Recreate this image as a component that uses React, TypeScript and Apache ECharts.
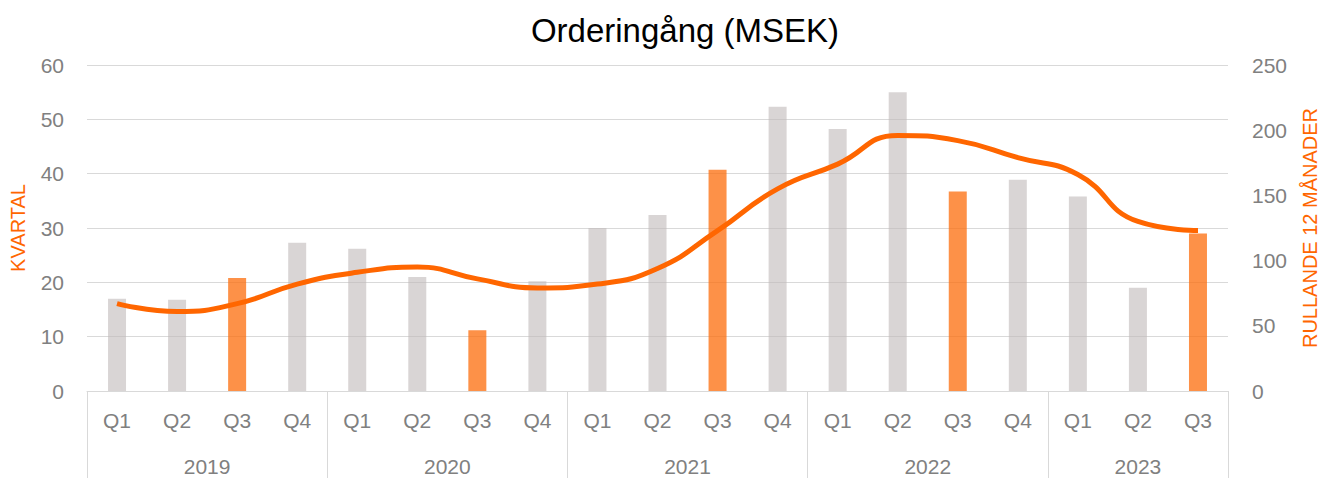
import React, { useEffect, useRef } from "react";
import * as echarts from "echarts";

const quarters = ["Q1", "Q2", "Q3", "Q4", "Q1", "Q2", "Q3", "Q4", "Q1", "Q2", "Q3", "Q4", "Q1", "Q2", "Q3", "Q4", "Q1", "Q2", "Q3"];
const years = ["2019", "2020", "2021", "2022", "2023"];
const quartersPerYear = [4, 4, 4, 4, 3];
const kvartal = [17, 16.8, 20.8, 27.3, 26.2, 21, 11.2, 20.2, 30, 32.4, 40.7, 52.3, 48.2, 55, 36.7, 38.9, 35.8, 19, 29];
const rullande = [67, 61, 67, 82, 91, 95, 86, 79, 82, 94, 123, 155, 174, 196, 192, 179, 166, 130, 123];
const leftTicks = { min: 0, max: 60, interval: 10 };
const rightTicks = { min: 0, max: 250, interval: 50 };

const FONT = "'Liberation Sans', Arial, sans-serif";
const GRAY_TEXT = "#808080";
const GRID = "#d9d9d9";
const ORANGE = "#ff6600";
const ORANGE_BAR = "rgba(252,108,11,0.75)";
const GRAY_BAR = "rgba(191,185,185,0.6)";

export default function App() {
  const ref = useRef<HTMLDivElement>(null);
  useEffect(() => {
    document.body.style.margin = "0";
    if (!ref.current) return;
    const chart = echarts.init(ref.current, null, { renderer: "svg" });

    // year group boundaries and centres (in category units)
    const bounds: number[] = [0];
    const centers: number[] = [];
    quartersPerYear.forEach((n) => {
      const start = bounds[bounds.length - 1];
      centers.push(start + n / 2);
      bounds.push(start + n);
    });
    const total = bounds[bounds.length - 1];

    chart.setOption({
      animation: false,
      title: {
        text: "Orderingång (MSEK)",
        left: 680,
        textAlign: "center",
        top: 9,
        textStyle: { fontFamily: FONT, fontSize: 33, fontWeight: "normal", color: "#000" },
      },
      grid: { left: 87, right: 92, top: 65, bottom: 87, containLabel: false, outerBoundsMode: "none" },
      xAxis: [
        {
          type: "category",
          data: quarters,
          boundaryGap: true,
          axisLine: { show: true, lineStyle: { color: GRID, width: 1 } },
          axisTick: { show: false },
          axisLabel: { color: GRAY_TEXT, fontFamily: FONT, fontSize: 21, margin: 19, interval: 0 },
          splitLine: { show: false },
        },
        {
          type: "value",
          position: "bottom",
          min: 0,
          max: total,
          axisLine: { show: false, onZero: false },
          axisTick: {
            show: true,
            customValues: bounds,
            length: 90,
            lineStyle: { color: GRID, width: 1 },
          },
          axisLabel: {
            show: true,
            customValues: centers,
            color: GRAY_TEXT,
            fontFamily: FONT,
            fontSize: 21,
            margin: 65,
            formatter: (v: number) => {
              const i = centers.findIndex((c) => Math.abs(c - v) < 1e-6);
              return i >= 0 ? years[i] : "";
            },
          },
          splitLine: { show: false },
        },
      ],
      yAxis: [
        {
          type: "value",
          ...leftTicks,
          name: "KVARTAL",
          nameLocation: "middle",
          nameRotate: 90,
          nameGap: 59,
          nameTextStyle: { color: ORANGE, fontFamily: FONT, fontSize: 20 },
          axisLine: { show: false },
          axisTick: { show: false },
          axisLabel: { color: GRAY_TEXT, fontFamily: FONT, fontSize: 21, margin: 23 },
          splitLine: { show: true, lineStyle: { color: GRID, width: 1 } },
        },
        {
          type: "value",
          ...rightTicks,
          position: "right",
          name: "RULLANDE 12 MÅNADER",
          nameLocation: "middle",
          nameRotate: 90,
          nameGap: 72,
          nameTextStyle: { color: ORANGE, fontFamily: FONT, fontSize: 20 },
          axisLine: { show: false },
          axisTick: { show: false },
          axisLabel: { color: GRAY_TEXT, fontFamily: FONT, fontSize: 21, margin: 24 },
          splitLine: { show: false },
        },
      ],
      series: [
        {
          type: "bar",
          name: "Kvartal",
          data: kvartal,
          xAxisIndex: 0,
          yAxisIndex: 0,
          barWidth: 18,
          itemStyle: {
            color: (p: any) => (quarters[p.dataIndex] === "Q3" ? ORANGE_BAR : GRAY_BAR),
          },
          z: 2,
        },
        {
          type: "line",
          name: "Rullande 12 månader",
          data: rullande,
          xAxisIndex: 0,
          yAxisIndex: 1,
          smooth: 0.5,
          showSymbol: false,
          symbol: "none",
          lineStyle: { color: ORANGE, width: 5 },
          z: 3,
        },
      ],
    });
    return () => chart.dispose();
  }, []);
  return <div ref={ref} style={{ width: 1320, height: 478 }} />;
}
